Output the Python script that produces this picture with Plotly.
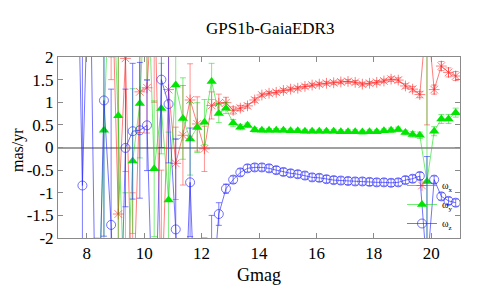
import plotly.graph_objects as go

# ---- data ----
gmag = [7.6, 7.85, 8.1, 8.35, 8.6, 8.85, 9.1, 9.35, 9.6, 9.85, 10.1, 10.35, 10.6, 10.85,
        11.1, 11.35, 11.6, 11.85, 12.1, 12.35, 12.6, 12.85, 13.1, 13.35, 13.6, 13.85,
        14.1, 14.35, 14.6, 14.85, 15.1, 15.35, 15.6, 15.85, 16.1, 16.35, 16.6, 16.85,
        17.1, 17.35, 17.6, 17.85, 18.1, 18.35, 18.6, 18.85, 19.1, 19.35, 19.6, 19.85,
        20.1, 20.35, 20.6, 20.85]

omega_x = [None, None, None, None, None, 4.5, -1.47, 1.97, -4.0, 1.23, 1.32, 4.0, -3.5, 1.28,
           -0.35, 0.27, 1.05, 0.52, -0.03, 0.93, 0.98, 0.99, 0.82, 0.87, 0.92, 1.05,
           1.16, 1.20, 1.22, 1.26, 1.29, 1.31, 1.35, 1.38, 1.40, 1.42, 1.43, 1.45,
           1.46, 1.44, 1.40, 1.42, 1.44, 1.47, 1.51, 1.49, 1.36, 1.29, 1.17, 3.0,
           1.28, 1.80, 1.66, 1.58]
err_x = [None, None, None, None, None, 3.0, 4.0, 2.5, 3.0, 0.9, 1.0, 3.0, 3.0, 1.3,
         0.8, 1.1, 0.8, 0.6, 0.5, 0.3, 0.2, 0.12, 0.08, 0.06, 0.05, 0.05,
         0.04, 0.04, 0.04, 0.04, 0.04, 0.04, 0.04, 0.04, 0.04, 0.04, 0.04, 0.04,
         0.04, 0.04, 0.04, 0.04, 0.04, 0.04, 0.05, 0.05, 0.05, 0.06, 0.07, 2.5,
         0.1, 0.1, 0.1, 0.1]

omega_y = [None, None, None, -5.0, 0.38, 5.0, 0.70, -4.0, -0.30, 0.97, 4.5, -0.47, 0.86, -1.16,
           1.38, 0.64, 0.19, 0.44, 0.56, 1.46, 0.75, 0.87, 0.54, 0.45, 0.49, 0.39,
           0.38, 0.38, 0.38, 0.38, 0.37, 0.37, 0.36, 0.36, 0.36, 0.36, 0.36, 0.35,
           0.35, 0.35, 0.34, 0.35, 0.35, 0.37, 0.38, 0.40, 0.33, 0.29, 0.27, -0.75,
           0.36, 0.63, 0.63, 0.77]
err_y = [None, None, None, 3.0, 4.0, 3.0, 3.0, 3.0, 1.6, 1.2, 3.0, 1.5, 1.0, 1.5,
         1.2, 0.9, 0.8, 0.55, 0.5, 0.4, 0.2, 0.12, 0.08, 0.06, 0.05, 0.05,
         0.04, 0.04, 0.04, 0.04, 0.04, 0.04, 0.04, 0.04, 0.04, 0.04, 0.04, 0.04,
         0.04, 0.04, 0.04, 0.04, 0.04, 0.04, 0.05, 0.05, 0.05, 0.06, 0.07, 4.0,
         0.1, 0.1, 0.1, 0.1]

omega_z = [7.0, -0.84, 5.0, -6.0, 1.04, -1.71, -6.0, -0.01, 0.36, 0.38, 0.49, -5.0, 1.50, 0.96,
           -1.81, -5.0, -0.77, -5.0, -4.0, -3.5, -1.47, -0.91, -0.71, -0.55, -0.46, -0.44,
           -0.44, -0.46, -0.50, -0.54, -0.57, -0.59, -0.62, -0.66, -0.67, -0.70, -0.72, -0.73,
           -0.74, -0.75, -0.75, -0.76, -0.77, -0.77, -0.78, -0.77, -0.72, -0.69, -0.63, -2.7,
           -0.71, -1.08, -1.18, -1.22]
err_z = [2.0, 5.0, 2.0, 2.0, 3.0, 3.0, 2.0, 1.3, 1.5, 1.5, 1.0, 2.0, 1.5, 1.3,
         2.0, 2.0, 1.2, 2.0, 2.0, 2.0, 0.25, 0.1, 0.08, 0.08, 0.08, 0.08,
         0.08, 0.08, 0.08, 0.08, 0.08, 0.08, 0.08, 0.08, 0.08, 0.08, 0.08, 0.08,
         0.08, 0.08, 0.08, 0.08, 0.08, 0.08, 0.08, 0.08, 0.08, 0.08, 0.08, 2.5,
         0.08, 0.08, 0.08, 0.08]

series_names = ["ω<sub>x</sub>", "ω<sub>y</sub>", "ω<sub>z</sub>"]
x_tick_vals = [8, 10, 12, 14, 16, 18, 20]
x_tick_text = ["8", "10", "12", "14", "16", "18", "20"]
y_tick_vals = [-2, -1.5, -1, -0.5, 0, 0.5, 1, 1.5, 2]
y_tick_text = ["-2", "-1.5", "-1", "-0.5", "0", "0.5", "1", "1.5", "2"]

FONT = "Liberation Serif, Times New Roman, serif"

fig = go.Figure()

fig.add_trace(go.Scatter(
    x=gmag, y=omega_x, name=series_names[0], mode="lines+markers",
    line=dict(color="rgba(255,40,40,0.6)", width=1),
    marker=dict(symbol="asterisk-open", size=9,
                line=dict(color="rgba(255,0,0,0.75)", width=1)),
    error_y=dict(type="data", array=err_x, visible=True,
                 color="rgba(255,60,60,0.55)", thickness=1, width=3),
))
fig.add_trace(go.Scatter(
    x=gmag, y=omega_y, name=series_names[1], mode="lines+markers",
    line=dict(color="rgba(0,220,0,0.55)", width=1),
    marker=dict(symbol="triangle-up", size=9, color="#00e600",
                line=dict(width=0)),
    error_y=dict(type="data", array=err_y, visible=True,
                 color="rgba(0,220,0,0.5)", thickness=1, width=3),
))
fig.add_trace(go.Scatter(
    x=gmag, y=omega_z, name=series_names[2], mode="lines+markers",
    line=dict(color="rgba(40,40,255,0.65)", width=1),
    marker=dict(symbol="circle-open", size=9,
                line=dict(color="rgba(40,40,255,0.7)", width=1)),
    error_y=dict(type="data", array=err_z, visible=True,
                 color="rgba(40,40,255,0.6)", thickness=1, width=3),
))

axis_common = dict(
    showline=True, linecolor="#8a8a8a", linewidth=1, mirror="allticks",
    ticks="inside", ticklen=5, tickcolor="#8a8a8a", tickwidth=1,
    showgrid=False, tickfont=dict(family=FONT, size=17, color="black"),
)

fig.update_xaxes(range=[7, 21], tickvals=x_tick_vals, ticktext=x_tick_text,
                 zeroline=False, **axis_common)
fig.update_yaxes(range=[-2, 2], tickvals=y_tick_vals, ticktext=y_tick_text,
                 zeroline=True, zerolinecolor="#a0a0a0", zerolinewidth=2,
                 **axis_common)

# the page body adds an 8 px offset, so the figure is 8 px smaller and margins compensate
fig.update_layout(
    width=472, height=280,
    margin=dict(l=50, r=20, t=49, b=50),
    paper_bgcolor="white", plot_bgcolor="white",
    font=dict(family=FONT, size=17, color="black"),
    showlegend=True,
    legend=dict(x=0.995, xanchor="right", y=0.0, yanchor="bottom",
                bgcolor="rgba(0,0,0,0)", font=dict(family=FONT, size=10),
                tracegroupgap=0, itemwidth=30),
    annotations=[
        dict(text="GPS1b-GaiaEDR3", xref="paper", yref="paper",
             x=0.527, y=(238 - 28) / 181, xanchor="center", yanchor="middle",
             showarrow=False, font=dict(family=FONT, size=17)),
        dict(text="Gmag", xref="paper", yref="paper", x=0.5, y=-(275 - 238) / 181,
             xanchor="center", yanchor="middle", showarrow=False,
             font=dict(family=FONT, size=18)),
        dict(text="mas/yr", xref="paper", yref="paper", x=-(58 - 18) / 402, y=0.486,
             xanchor="center", yanchor="middle", textangle=-90, showarrow=False,
             font=dict(family=FONT, size=16)),
    ],
)

fig.write_html("out.html")
